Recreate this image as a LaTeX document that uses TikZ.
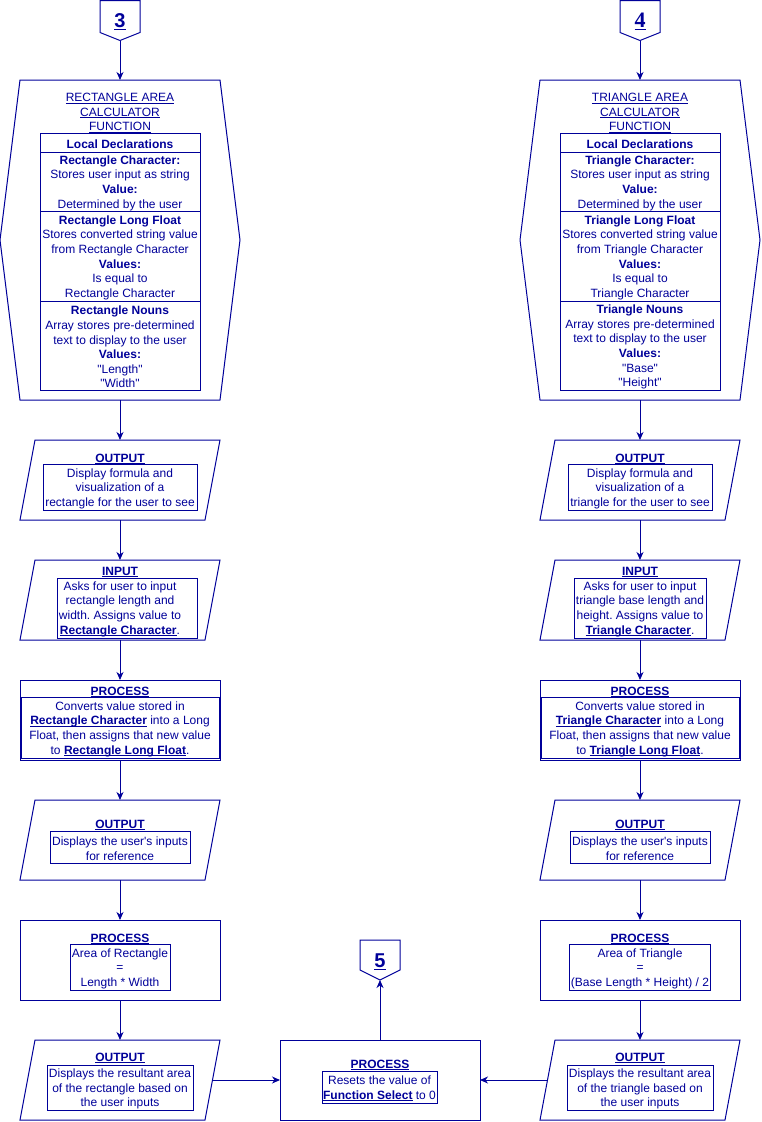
\documentclass[tikz,border=0pt]{standalone}
\usepackage{fontspec}
\setmainfont{Liberation Sans}[Ligatures=TeXOff]
\newfontfamily\numserif{Liberation Serif}
\newcommand\myul[1]{\setbox0\hbox{#1}\rlap{\rule[-1.8pt]{\wd0}{0.8pt}}\box0\relax}
\frenchspacing
\usetikzlibrary{arrows.meta,calc}
\definecolor{dblue}{HTML}{000099}
\begin{document}
\begin{tikzpicture}[x=1pt,y=-1pt,
  every node/.style={font=\fontsize{12}{14.6}\selectfont, text=dblue},
  outline/.style={draw=dblue, line width=1pt, line join=miter},
  sbox/.style 2 args={minimum width=#1, minimum height=#2, inner sep=0pt, outer sep=0pt},
  ibox/.style 2 args={draw=dblue, line width=1pt, minimum width=#1, minimum height=#2, inner sep=0pt},
  txt/.style={align=center, inner sep=0pt, yshift=-1.6pt},
  rowbox/.style={draw=dblue, line width=1pt, minimum width=160pt, inner sep=0pt},
  conn/.style={draw=dblue, line width=1pt, -{Stealth[length=8pt,width=7pt,inset=2.5pt]}},
  numtxt/.style={inner sep=0pt, font=\fontsize{20}{24}\selectfont\bfseries}
]
\useasboundingbox (0,0) rectangle (762,1122);

% ================= LEFT COLUMN =================
\node[sbox={40pt}{40pt}] (c3) at (120,20.5) {};
\draw[outline] (c3.north west) -- (c3.north east) -- ($(c3.south east)+(0,-8)$) -- (c3.south) -- ($(c3.south west)+(0,-8)$) -- cycle;
\node[numtxt] (c3t) at (120,21.5) {\myul{3}};

\node[sbox={240pt}{320pt}] (lhex) at (120,240) {};
\draw[outline] ($(lhex.north west)+(20,0)$) -- ($(lhex.north east)+(-20,0)$) -- (lhex.east) -- ($(lhex.south east)+(-20,0)$) -- ($(lhex.south west)+(20,0)$) -- (lhex.west) -- cycle;
\node[txt] (lhext) at (120,111.5) {\myul{RECTANGLE AREA}\\\myul{CALCULATOR}\\\myul{FUNCTION}};
\node[rowbox, minimum height=19pt] (lr1) at (120,142.5) {};
\node[txt] (lr1t) at (120,142.5) {\textbf{Local Declarations}};
\node[rowbox, minimum height=59pt] (lr2) at (120,181.5) {};
\node[txt] (lr2t) at (120,181.5) {\textbf{Rectangle Character:}\\Stores user input as string\\\textbf{Value:}\\Determined by the user};
\node[rowbox, minimum height=90pt] (lr3) at (120,256) {};
\node[txt] (lr3t) at (120,256) {\textbf{Rectangle Long Float}\\Stores converted string value\\from Rectangle Character\\\textbf{Values:}\\Is equal to\\Rectangle Character};
\node[rowbox, minimum height=89pt] (lr4) at (120,345.5) {};
\node[txt] (lr4t) at (120,345.5) {\textbf{Rectangle Nouns}\\Array stores pre-determined\\text to display to the user\\\textbf{Values:}\\"Length"\\"Width"};

% output 1
\node[sbox={200pt}{80pt}] (lo1) at (120,480) {};
\draw[outline] ($(lo1.north west)+(15,0)$) -- (lo1.north east) -- ($(lo1.south east)+(-15,0)$) -- (lo1.south west) -- cycle;
\node[txt] (lo1h) at (120,457.5) {\myul{\textbf{OUTPUT}}};
\node[ibox={154pt}{46pt}] (lo1b) at (120,487) {};
\node[txt] (lo1t) at (120,487) {Display formula and\\visualization of a\\rectangle for the user to see};

% input
\node[sbox={200pt}{80pt}] (li1) at (120,600) {};
\draw[outline] ($(li1.north west)+(15,0)$) -- (li1.north east) -- ($(li1.south east)+(-15,0)$) -- (li1.south west) -- cycle;
\node[txt] (li1h) at (120,570.5) {\myul{\textbf{INPUT}}};
\node[ibox={140pt}{60pt}] (li1b) at (127,608) {};
\node[txt] (li1t) at (120,607.5) {Asks for user to input\\rectangle length and\\width. Assigns value to\\\myul{\textbf{Rectangle Character}}.};

% process 1
\node[sbox={200pt}{80pt}, draw=dblue, line width=1pt] (lp1) at (120,720) {};
\node[txt] (lp1h) at (120,690.5) {\myul{\textbf{PROCESS}}};
\node[ibox={198pt}{61pt}] (lp1b) at (120,727.5) {};
\node[txt] (lp1t) at (120,727.5) {Converts value stored in\\\myul{\textbf{Rectangle Character}} into a Long\\Float, then assigns that new value\\to \myul{\textbf{Rectangle Long Float}}.};

% output 2
\node[sbox={200pt}{80pt}] (lo2) at (120,840) {};
\draw[outline] ($(lo2.north west)+(15,0)$) -- (lo2.north east) -- ($(lo2.south east)+(-15,0)$) -- (lo2.south west) -- cycle;
\node[txt] (lo2h) at (120,823.5) {\myul{\textbf{OUTPUT}}};
\node[ibox={140pt}{32pt}] (lo2b) at (120,847) {};
\node[txt] (lo2t) at (120,847) {Displays the user's inputs\\for reference};

% process 2
\node[sbox={200pt}{80pt}, draw=dblue, line width=1pt] (lp2) at (120,960) {};
\node[txt] (lp2h) at (120,937.5) {\myul{\textbf{PROCESS}}};
\node[ibox={100pt}{46pt}] (lp2b) at (120,967) {};
\node[txt] (lp2t) at (120,967) {Area of Rectangle\\=\\Length * Width};

% output 3
\node[sbox={200pt}{80pt}] (lo3) at (120,1080) {};
\draw[outline] ($(lo3.north west)+(15,0)$) -- (lo3.north east) -- ($(lo3.south east)+(-15,0)$) -- (lo3.south west) -- cycle;
\node[txt] (lo3h) at (120,1056.5) {\myul{\textbf{OUTPUT}}};
\node[ibox={146pt}{45pt}] (lo3b) at (120,1087.5) {};
\node[txt] (lo3t) at (120,1087.5) {Displays the resultant area\\of the rectangle based on\\the user inputs};

% ================= RIGHT COLUMN =================
\node[sbox={40pt}{40pt}] (c4) at (640,20.5) {};
\draw[outline] (c4.north west) -- (c4.north east) -- ($(c4.south east)+(0,-8)$) -- (c4.south) -- ($(c4.south west)+(0,-8)$) -- cycle;
\node[numtxt, font=\fontsize{22}{24}\numserif\bfseries] (c4t) at (640,21.5) {\myul{4}};

\node[sbox={240pt}{320pt}] (rhex) at (640,240) {};
\draw[outline] ($(rhex.north west)+(20,0)$) -- ($(rhex.north east)+(-20,0)$) -- (rhex.east) -- ($(rhex.south east)+(-20,0)$) -- ($(rhex.south west)+(20,0)$) -- (rhex.west) -- cycle;
\node[txt] (rhext) at (640,111.5) {\myul{TRIANGLE AREA}\\\myul{CALCULATOR}\\\myul{FUNCTION}};
\node[rowbox, minimum height=19pt] (rr1) at (640,142.5) {};
\node[txt] (rr1t) at (640,142.5) {\textbf{Local Declarations}};
\node[rowbox, minimum height=59pt] (rr2) at (640,181.5) {};
\node[txt] (rr2t) at (640,181.5) {\textbf{Triangle Character:}\\Stores user input as string\\\textbf{Value:}\\Determined by the user};
\node[rowbox, minimum height=90pt] (rr3) at (640,256) {};
\node[txt] (rr3t) at (640,256) {\textbf{Triangle Long Float}\\Stores converted string value\\from Triangle Character\\\textbf{Values:}\\Is equal to\\Triangle Character};
\node[rowbox, minimum height=89pt] (rr4) at (640,345.5) {};
\node[txt] (rr4t) at (640,345.5) {\textbf{Triangle Nouns}\\Array stores pre-determined\\text to display to the user\\\textbf{Values:}\\"Base"\\"Height"};

\node[sbox={200pt}{80pt}] (ro1) at (640,480) {};
\draw[outline] ($(ro1.north west)+(15,0)$) -- (ro1.north east) -- ($(ro1.south east)+(-15,0)$) -- (ro1.south west) -- cycle;
\node[txt] (ro1h) at (640,457.5) {\myul{\textbf{OUTPUT}}};
\node[ibox={144pt}{46pt}] (ro1b) at (640,487) {};
\node[txt] (ro1t) at (640,487) {Display formula and\\visualization of a\\triangle for the user to see};

\node[sbox={200pt}{80pt}] (ri1) at (640,600) {};
\draw[outline] ($(ri1.north west)+(15,0)$) -- (ri1.north east) -- ($(ri1.south east)+(-15,0)$) -- (ri1.south west) -- cycle;
\node[txt] (ri1h) at (640,570.5) {\myul{\textbf{INPUT}}};
\node[ibox={132pt}{60pt}] (ri1b) at (640,608) {};
\node[txt] (ri1t) at (640,607.5) {Asks for user to input\\triangle base length and\\height. Assigns value to\\\myul{\textbf{Triangle Character}}.};

\node[sbox={200pt}{80pt}, draw=dblue, line width=1pt] (rp1) at (640,720) {};
\node[txt] (rp1h) at (640,690.5) {\myul{\textbf{PROCESS}}};
\node[ibox={198pt}{61pt}] (rp1b) at (640,727.5) {};
\node[txt] (rp1t) at (640,727.5) {Converts value stored in\\\myul{\textbf{Triangle Character}} into a Long\\Float, then assigns that new value\\to \myul{\textbf{Triangle Long Float}}.};

\node[sbox={200pt}{80pt}] (ro2) at (640,840) {};
\draw[outline] ($(ro2.north west)+(15,0)$) -- (ro2.north east) -- ($(ro2.south east)+(-15,0)$) -- (ro2.south west) -- cycle;
\node[txt] (ro2h) at (640,823.5) {\myul{\textbf{OUTPUT}}};
\node[ibox={140pt}{32pt}] (ro2b) at (640,847) {};
\node[txt] (ro2t) at (640,847) {Displays the user's inputs\\for reference};

\node[sbox={200pt}{80pt}, draw=dblue, line width=1pt] (rp2) at (640,960) {};
\node[txt] (rp2h) at (640,937.5) {\myul{\textbf{PROCESS}}};
\node[ibox={141pt}{46pt}] (rp2b) at (640,967) {};
\node[txt] (rp2t) at (640,967) {Area of Triangle\\=\\(Base Length * Height) / 2};

\node[sbox={200pt}{80pt}] (ro3) at (640,1080) {};
\draw[outline] ($(ro3.north west)+(15,0)$) -- (ro3.north east) -- ($(ro3.south east)+(-15,0)$) -- (ro3.south west) -- cycle;
\node[txt] (ro3h) at (640,1056.5) {\myul{\textbf{OUTPUT}}};
\node[ibox={146pt}{45pt}] (ro3b) at (640,1087.5) {};
\node[txt] (ro3t) at (640,1087.5) {Displays the resultant area\\of the triangle based on\\the user inputs};

% ================= BOTTOM MIDDLE =================
\node[sbox={200pt}{80pt}, draw=dblue, line width=1pt] (bp) at (380,1080) {};
\node[txt] (bph) at (380,1063.5) {\myul{\textbf{PROCESS}}};
\node[ibox={115pt}{32pt}] (bpb) at (379.5,1087) {};
\node[txt] (bpt) at (379.5,1087) {Resets the value of\\\myul{\textbf{Function Select}} to 0};

\node[sbox={40pt}{40pt}] (c5) at (380,960) {};
\draw[outline] (c5.north west) -- (c5.north east) -- ($(c5.south east)+(0,-10)$) -- (c5.south) -- ($(c5.south west)+(0,-10)$) -- cycle;
\node[numtxt] (c5t) at (380,962) {\myul{5}};

% ================= CONNECTORS =================
\draw[conn] (c3.south) -- (lhex.north);
\draw[conn] (lhex.south) -- (lo1.north);
\draw[conn] (lo1.south) -- (li1.north);
\draw[conn] (li1.south) -- (lp1.north);
\draw[conn] (lp1.south) -- (lo2.north);
\draw[conn] (lo2.south) -- (lp2.north);
\draw[conn] (lp2.south) -- (lo3.north);
\draw[conn] ($(lo3.east)+(-7.5,0)$) -- (bp.west);

\draw[conn] (c4.south) -- (rhex.north);
\draw[conn] (rhex.south) -- (ro1.north);
\draw[conn] (ro1.south) -- (ri1.north);
\draw[conn] (ri1.south) -- (rp1.north);
\draw[conn] (rp1.south) -- (ro2.north);
\draw[conn] (ro2.south) -- (rp2.north);
\draw[conn] (rp2.south) -- (ro3.north);
\draw[conn] ($(ro3.west)+(7.5,0)$) -- (bp.east);

\draw[conn] (bp.north) -- (c5.south);
\end{tikzpicture}
\end{document}
